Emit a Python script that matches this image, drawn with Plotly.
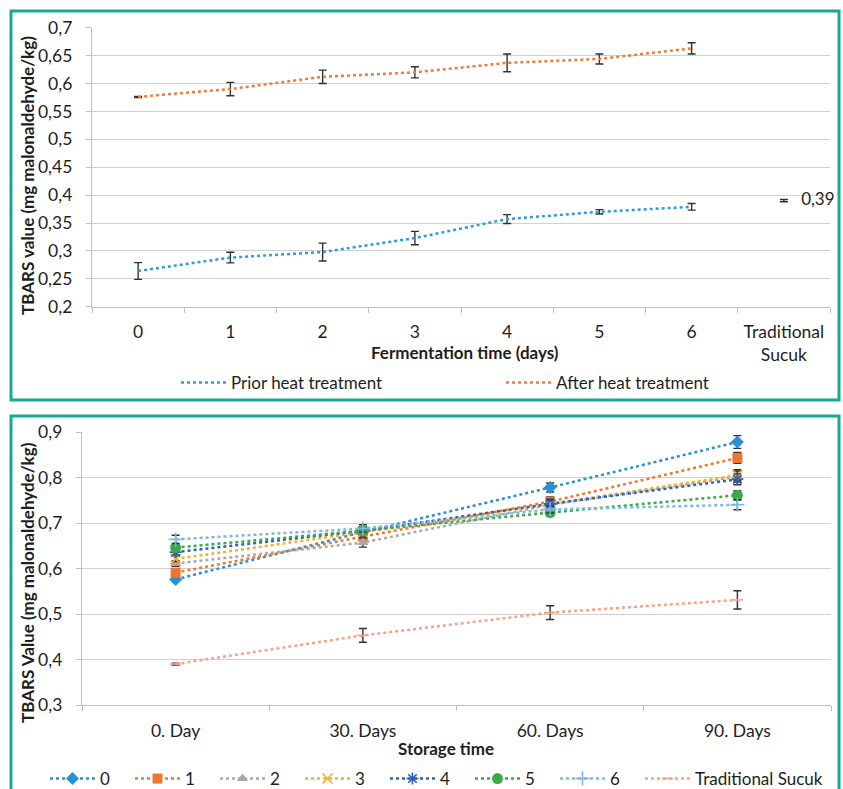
import plotly.graph_objects as go

W, H = 843, 789

# ---------------- data: top chart ----------------
ferm_days = ["0", "1", "2", "3", "4", "5", "6"]
trad_label = "Traditional<br>Sucuk"
prior_vals = [0.264, 0.288, 0.298, 0.323, 0.357, 0.370, 0.379]
prior_err = [0.015, 0.0095, 0.016, 0.012, 0.008, 0.004, 0.006]
after_vals = [0.576, 0.590, 0.612, 0.620, 0.637, 0.644, 0.663]
after_err = [0.001, 0.012, 0.012, 0.010, 0.016, 0.009, 0.010]
trad_top_val = [0.39]
trad_top_err = [0.002]
trad_top_text = ["0,39"]

# ---------------- data: bottom chart ----------------
storage = ["0. Day", "30. Days", "60. Days", "90. Days"]
s0 = [0.576, 0.680, 0.778, 0.878]; e0 = [0.004, 0.008, 0.010, 0.014]
s1 = [0.591, 0.670, 0.747, 0.843]; e1 = [0.005, 0.008, 0.010, 0.012]
s2 = [0.611, 0.657, 0.740, 0.802]; e2 = [0.006, 0.010, 0.010, 0.012]
s3 = [0.621, 0.680, 0.742, 0.805]; e3 = [0.006, 0.008, 0.010, 0.012]
s4 = [0.636, 0.683, 0.742, 0.796]; e4 = [0.006, 0.008, 0.010, 0.012]
s5 = [0.646, 0.683, 0.723, 0.761]; e5 = [0.005, 0.008, 0.008, 0.010]
s6 = [0.664, 0.688, 0.730, 0.740]; e6 = [0.009, 0.008, 0.008, 0.011]
strad = [0.390, 0.453, 0.503, 0.531]; etrad = [0.002, 0.015, 0.015, 0.020]
bottom_names = ["0", "1", "2", "3", "4", "5", "6", "Traditional Sucuk"]
bottom_vals = [s0, s1, s2, s3, s4, s5, s6, strad]
bottom_errs = [e0, e1, e2, e3, e4, e5, e6, etrad]
bottom_colors = ["#2b8fd4", "#f07530", "#a9a9a9", "#fbb024", "#2a62c0",
                 "#3aaa49", "#7fb6e8", "#f9a088"]
bottom_symbols = ["diamond", "square", "triangle-up", "x-thin-open",
                  "asterisk-open", "circle", "cross-thin-open", "line-ew-open"]
bottom_sizes = [10, 10, 10, 10, 10, 11, 10, 8]

FONT = "Lato, 'Open Sans', sans-serif"
TXT = "#1e1e1e"
ERRC = "#303030"
TICK_SIZE = 17.5
LEG_SIZE = 17
TITLE_SIZE = 17


def px(x):
    return x / W


def py(y):
    return 1 - y / H


fig = go.Figure()

# top chart traces
fig.add_trace(go.Scatter(
    x=ferm_days, y=prior_vals, name="Prior heat treatment", mode="lines",
    line=dict(color="#2e9cdb", width=2.5, dash="dot"),
    error_y=dict(type="data", array=prior_err, color=ERRC, thickness=1.4, width=4),
    xaxis="x", yaxis="y", legend="legend"))
fig.add_trace(go.Scatter(
    x=ferm_days, y=after_vals, name="After heat treatment", mode="lines",
    line=dict(color="#f07a3a", width=2.5, dash="dot"),
    error_y=dict(type="data", array=after_err, color=ERRC, thickness=1.4, width=4),
    xaxis="x", yaxis="y", legend="legend"))
fig.add_trace(go.Scatter(
    x=[trad_label], y=trad_top_val, mode="markers+text", text=trad_top_text,
    textposition="middle right", textfont=dict(family=FONT, size=17, color=TXT),
    marker=dict(size=26, color="rgba(0,0,0,0)"), cliponaxis=False,
    error_y=dict(type="data", array=trad_top_err, color=ERRC, thickness=1.4, width=4),
    showlegend=False, xaxis="x", yaxis="y"))

# bottom chart traces
for name, vals, errs, col, sym, sz in zip(bottom_names, bottom_vals, bottom_errs,
                                          bottom_colors, bottom_symbols, bottom_sizes):
    open_sym = sym.endswith("open")
    fig.add_trace(go.Scatter(
        x=storage, y=vals, name=name, mode="lines+markers",
        line=dict(color=col, width=2.5, dash="dot"),
        marker=dict(symbol=sym, size=sz, color=col,
                    line=dict(color=col, width=1.6 if open_sym else 0)),
        error_y=dict(type="data", array=errs, color=ERRC, thickness=1.4, width=4),
        xaxis="x2", yaxis="y2",
        legend="legend3" if name == "Traditional Sucuk" else "legend2"))

axis_common = dict(showline=True, linecolor="#bfbfbf", linewidth=1.2,
                   ticks="outside", ticklen=5, tickcolor="#bfbfbf",
                   tickfont=dict(family=FONT, size=TICK_SIZE, color=TXT),
                   zeroline=False, fixedrange=True)

leg_font = dict(family=FONT, size=LEG_SIZE, color=TXT)
title_font = dict(family=FONT, size=TITLE_SIZE, color=TXT)

fig.update_layout(
    width=W, height=H,
    margin=dict(l=0, r=0, t=0, b=0, autoexpand=False),
    paper_bgcolor="white", plot_bgcolor="white",
    separators=", ",
    font=dict(family=FONT, color=TXT),
    xaxis=dict(axis_common, domain=[px(92), px(830)], anchor="y",
               type="category", categoryorder="array",
               categoryarray=ferm_days + [trad_label],
               range=[-0.5, 7.5], tickson="boundaries", showgrid=False,
               ticklabelstandoff=9),
    yaxis=dict(axis_common, domain=[py(306.7), py(27.7)], anchor="x",
               range=[0.2, 0.7], dtick=0.05, showgrid=True,
               gridcolor="#d0d0d0", gridwidth=1.2, ticklabelstandoff=10),
    xaxis2=dict(axis_common, domain=[px(82), px(831)], anchor="y2",
                type="category", categoryorder="array", categoryarray=storage,
                range=[-0.5, 3.5], tickson="boundaries", showgrid=False,
                ticklabelstandoff=10),
    yaxis2=dict(axis_common, domain=[py(705), py(432)], anchor="x2",
                range=[0.3, 0.9], dtick=0.1, showgrid=True,
                gridcolor="#d0d0d0", gridwidth=1.2, ticklabelstandoff=10),
    legend=dict(orientation="h", x=px(176), y=py(383), xanchor="left",
                yanchor="middle", itemwidth=45, entrywidth=265,
                font=leg_font, bgcolor="rgba(0,0,0,0)"),
    legend2=dict(orientation="h", x=px(45), y=py(779), xanchor="left",
                 yanchor="middle", itemwidth=45, entrywidth=25,
                 font=leg_font, bgcolor="rgba(0,0,0,0)"),
    legend3=dict(orientation="h", x=px(640), y=py(779), xanchor="left",
                 yanchor="middle", itemwidth=45,
                 font=leg_font, bgcolor="rgba(0,0,0,0)"),
    shapes=[
        dict(type="rect", xref="paper", yref="paper", x0=px(11), x1=px(839),
             y0=py(400), y1=py(11), line=dict(color="#18a991", width=3)),
        dict(type="rect", xref="paper", yref="paper", x0=px(11), x1=px(839),
             y0=py(800), y1=py(416), line=dict(color="#18a991", width=3)),
    ],
    annotations=[
        dict(text="<b>TBARS value (mg malonaldehyde/kg)</b>", x=px(27), y=py(176),
             xref="paper", yref="paper", textangle=-90, showarrow=False,
             xanchor="center", yanchor="middle", font=title_font),
        dict(text="<b>Fermentation time (days)</b>", x=px(465), y=py(352),
             xref="paper", yref="paper", showarrow=False,
             xanchor="center", yanchor="middle", font=title_font),
        dict(text="<b>TBARS Value (mg malonaldehyde/kg)</b>", x=px(27), y=py(583),
             xref="paper", yref="paper", textangle=-90, showarrow=False,
             xanchor="center", yanchor="middle", font=title_font),
        dict(text="<b>Storage time</b>", x=px(446), y=py(748),
             xref="paper", yref="paper", showarrow=False,
             xanchor="center", yanchor="middle", font=title_font),
    ],
)

fig.write_html("out.html")
